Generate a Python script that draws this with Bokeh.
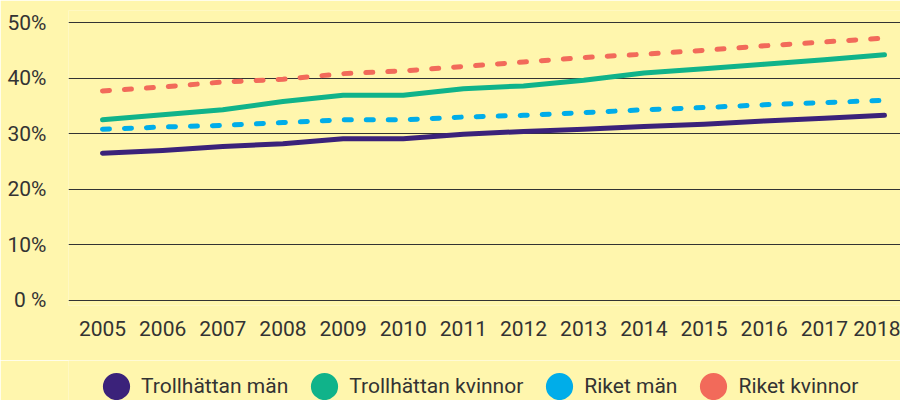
from bokeh.plotting import figure
from bokeh.layouts import column
from bokeh.models import Range1d, FixedTicker, Legend, LegendItem
from bokeh.embed import file_html
from bokeh.resources import INLINE

years = [2005, 2006, 2007, 2008, 2009, 2010, 2011, 2012, 2013, 2014, 2015, 2016, 2017, 2018]
troll_man = [26.5, 27.0, 27.7, 28.2, 29.1, 29.1, 29.9, 30.4, 30.8, 31.3, 31.7, 32.3, 32.8, 33.3]
troll_kv = [32.5, 33.4, 34.3, 35.8, 36.9, 36.9, 38.1, 38.6, 39.6, 40.9, 41.7, 42.5, 43.3, 44.2]
riket_man = [30.8, 31.2, 31.5, 32.0, 32.5, 32.5, 33.0, 33.3, 33.8, 34.3, 34.7, 35.2, 35.6, 36.0]
riket_kv = [37.7, 38.4, 39.3, 39.8, 40.8, 41.3, 42.1, 42.9, 43.7, 44.3, 45.0, 45.8, 46.5, 47.2]

series_names = ["Trollhättan män", "Trollhättan kvinnor", "Riket män", "Riket kvinnor"]
y_ticks = [0, 10, 20, 30, 40, 50]
y_tick_labels = ["0 %", "10%", "20%", "30%", "40%", "50%"]
x_tick_labels = [str(y) for y in years]

BG = "#fff6ad"
TXT = "#333333"
FONT = "Roboto"
colors = ["#3b227a", "#10b38a", "#00ade9", "#f26a5a"]
dashes = ["solid", "solid", "7 15", "7 15"]
all_series = [troll_man, troll_kv, riket_man, riket_kv]

p = figure(width=900, height=360, output_backend="svg", toolbar_location=None,
           x_range=Range1d(2004.435, 2018.266), y_range=Range1d(-0.9, 52.16),
           min_border_left=68, min_border_right=0, min_border_top=10, min_border_bottom=55)
p.background_fill_color = BG
p.border_fill_color = BG
p.outline_line_color = None

p.xgrid.grid_line_color = None
p.ygrid.grid_line_color = "#333333"
p.ygrid.grid_line_width = 1.2
p.ygrid.ticker = FixedTicker(ticks=y_ticks)

p.yaxis.ticker = FixedTicker(ticks=y_ticks)
p.yaxis.major_label_overrides = {t: l for t, l in zip(y_ticks, y_tick_labels)}
p.xaxis.ticker = FixedTicker(ticks=years)
p.xaxis.major_label_overrides = {t: l for t, l in zip(years, x_tick_labels)}
for ax in (p.xaxis[0], p.yaxis[0]):
    ax.axis_line_color = None
    ax.major_tick_line_color = None
    ax.minor_tick_line_color = None
    ax.major_label_text_font = FONT
    ax.major_label_text_font_size = "21px"
    ax.major_label_text_color = TXT
p.xaxis.major_label_standoff = 9
p.yaxis.major_label_standoff = 16

for vals, c, d in zip(all_series, colors, dashes):
    p.line(years, vals, line_color=c, line_width=5, line_dash=d, line_cap="round", line_join="round")

# legend strip below the chart
p2 = figure(width=900, height=40, output_backend="svg", toolbar_location=None,
            x_range=Range1d(0, 900), y_range=Range1d(0, 40),
            x_axis_location=None, y_axis_location=None,
            min_border_left=0, min_border_right=0, min_border_top=0, min_border_bottom=0)
p2.background_fill_color = BG
p2.border_fill_color = BG
p2.outline_line_color = None
p2.grid.grid_line_color = None

items = []
for name, vals, c in zip(series_names, all_series, colors):
    r = p2.ellipse(x=years, y=vals, width=1, height=1, width_units="screen", height_units="screen",
                   fill_color=c, line_color=None)
    items.append(LegendItem(label=name, renderers=[r]))

legend = Legend(items=items, orientation="horizontal", location=(31, -3),
                glyph_width=34, glyph_height=34, label_standoff=8, spacing=19, padding=0,
                margin=0, border_line_color=None, background_fill_alpha=0,
                label_text_font=FONT, label_text_font_size="21px", label_text_color=TXT)
p2.add_layout(legend)

layout = column(p, p2, spacing=0)
open("out.html", "w").write(file_html(layout, INLINE))
